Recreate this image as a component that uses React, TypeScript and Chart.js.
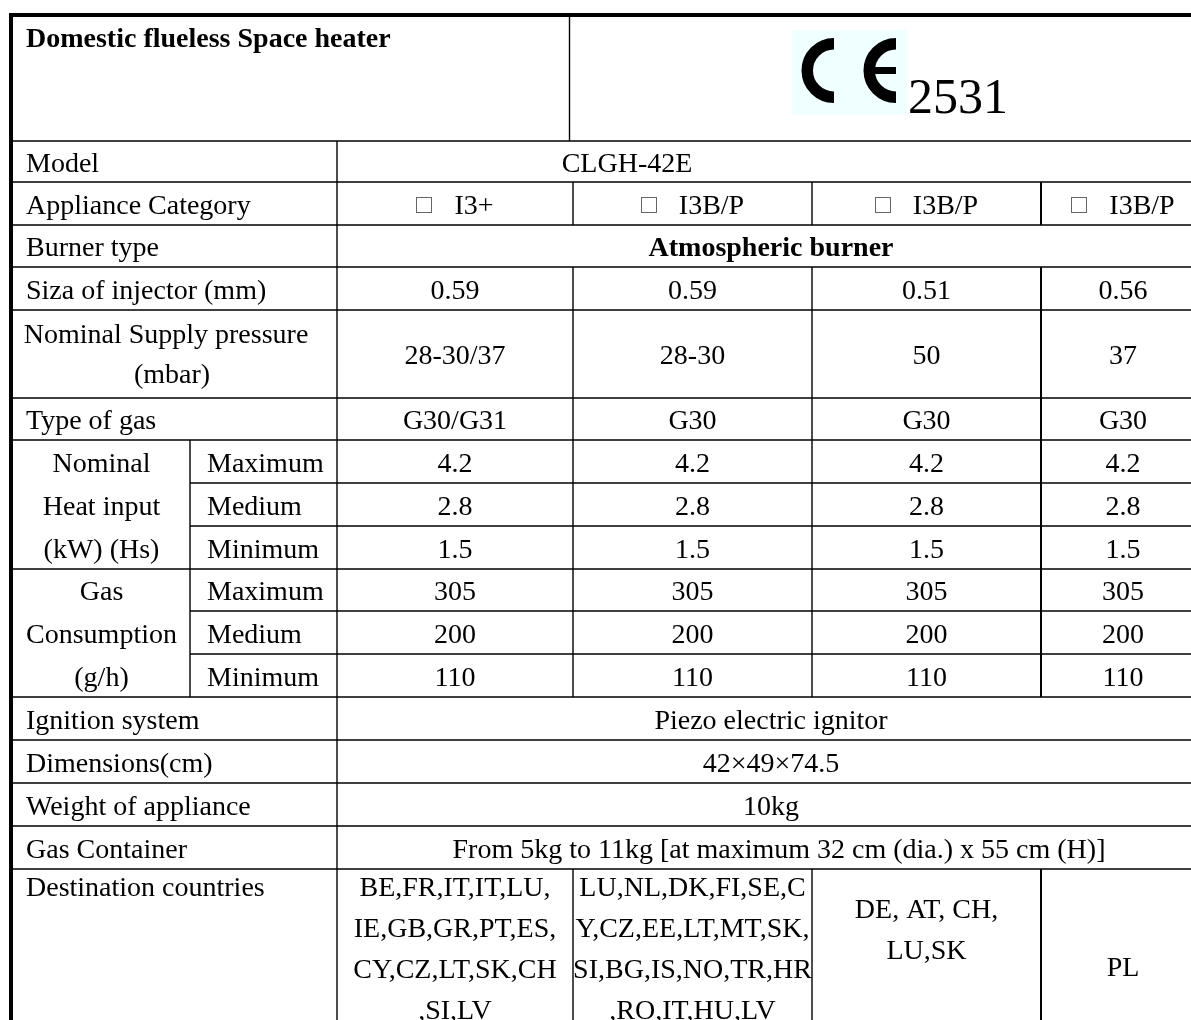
import React, { useEffect, useRef } from "react";
import { Chart, registerables } from "chart.js";

Chart.register(...registerables);

// ---------- data ----------
const title = "Domestic flueless Space heater";
const certNumber = "2531";
const modelName = "CLGH-42E";
const applianceCategories = ["I3+", "I3B/P", "I3B/P", "I3B/P"];
const burnerType = "Atmospheric burner";
const injectorSizes = ["0.59", "0.59", "0.51", "0.56"];
const supplyPressures = ["28-30/37", "28-30", "50", "37"];
const gasTypes = ["G30/G31", "G30", "G30", "G30"];
const levelLabels = ["Maximum", "Medium", "Minimum"];
const heatInputLabel = ["Nominal", "Heat input", "(kW) (Hs)"];
const heatInputMax = ["4.2", "4.2", "4.2", "4.2"];
const heatInputMed = ["2.8", "2.8", "2.8", "2.8"];
const heatInputMin = ["1.5", "1.5", "1.5", "1.5"];
const gasConsLabel = ["Gas", "Consumption", "(g/h)"];
const gasConsMax = ["305", "305", "305", "305"];
const gasConsMed = ["200", "200", "200", "200"];
const gasConsMin = ["110", "110", "110", "110"];
const ignitionSystem = "Piezo electric ignitor";
const dimensions = "42×49×74.5";
const weight = "10kg";
const gasContainer = "From 5kg to 11kg [at maximum 32 cm (dia.) x 55 cm (H)]";
const rowLabels = [
  "Model",
  "Appliance Category",
  "Burner type",
  "Siza of injector (mm)",
  "Nominal Supply pressure|(mbar)",
  "Type of gas",
  "Ignition system",
  "Dimensions(cm)",
  "Weight of appliance",
  "Gas Container",
  "Destination countries",
];
const destCol1 = ["BE,FR,IT,IT,LU,", "IE,GB,GR,PT,ES,", "CY,CZ,LT,SK,CH", ",SI,LV"];
const destCol2 = ["LU,NL,DK,FI,SE,C", "Y,CZ,EE,LT,MT,SK,", "SI,BG,IS,NO,TR,HR", ",RO,IT,HU,LV"];
const destCol3 = ["DE, AT, CH,", "LU,SK"];
const destCol4 = ["PL"];

// ---------- layout (table units = px on the scales) ----------
const COLS = [11, 190, 337, 573, 812, 1041, 1205];
const ROWS = [15, 141, 182, 225, 267, 310, 398, 440, 483, 526, 569, 611, 654, 697, 740, 783, 826, 869, 1070];
const FONT = '"Liberation Serif", "Times New Roman", serif';

const tablePlugin = {
  id: "specTable",
  afterDraw(chart: any) {
    const { ctx } = chart;
    const xs = chart.scales.x;
    const ys = chart.scales.y;
    const X = (v: number) => xs.getPixelForValue(v);
    const Y = (v: number) => ys.getPixelForValue(v);

    ctx.save();
    ctx.fillStyle = "#ffffff";
    ctx.fillRect(0, 0, chart.width, chart.height);

    // ----- lines -----
    ctx.strokeStyle = "#000";
    const hline = (y: number, x0: number, x1: number, w = 1.4) => {
      ctx.lineWidth = w;
      ctx.beginPath();
      ctx.moveTo(X(x0), Y(y));
      ctx.lineTo(X(x1), Y(y));
      ctx.stroke();
    };
    const vline = (x: number, y0: number, y1: number, w = 1.4) => {
      ctx.lineWidth = w;
      ctx.beginPath();
      ctx.moveTo(X(x), Y(y0));
      ctx.lineTo(X(x), Y(y1));
      ctx.stroke();
    };
    const right = COLS[6] + 20;
    for (let r = 1; r <= 17; r++) {
      const inner = r === 8 || r === 9 || r === 11 || r === 12;
      hline(ROWS[r], inner ? COLS[1] : COLS[0], right);
    }
    // header split
    vline(569.5, ROWS[0], ROWS[1]);
    // label / value divider
    vline(COLS[2], ROWS[1], ROWS[18]);
    // sub label divider
    vline(COLS[1], ROWS[7], ROWS[13]);
    const colRows: [number, number][] = [
      [ROWS[2], ROWS[3]],
      [ROWS[4], ROWS[13]],
      [ROWS[17], ROWS[18]],
    ];
    for (const [a, b] of colRows) {
      vline(COLS[3], a, b);
      vline(COLS[4], a, b);
      vline(COLS[5], a, b, 2);
      vline(COLS[6], a, b);
    }
    // thick outer border
    hline(ROWS[0], COLS[0] - 2, right, 4);
    vline(COLS[0], ROWS[0] - 2, ROWS[18], 4);

    // ----- text -----
    const txt = (s: string, x: number, y: number, align: CanvasTextAlign = "center", bold = false, size = 28) => {
      ctx.font = `${bold ? "bold " : ""}${size}px ${FONT}`;
      ctx.fillStyle = "#000";
      ctx.textAlign = align;
      ctx.textBaseline = "alphabetic";
      ctx.fillText(s, X(x), Y(y));
    };
    const base = (r: number) => (ROWS[r] + ROWS[r + 1]) / 2 + 10;
    const colCenter = (c: number) => (COLS[2 + c] + COLS[3 + c]) / 2;
    const valueCenter = (COLS[2] + COLS[6]) / 2;
    const labelX = 26;

    // header
    txt(title, labelX, 47, "left", true, 28);
    // CE mark
    ctx.fillStyle = "#f0ffff";
    ctx.fillRect(X(792), Y(30), X(907) - X(792), Y(115) - Y(30));
    ctx.strokeStyle = "#000";
    ctx.lineWidth = 11.5;
    ctx.lineCap = "butt";
    const rad = 32.5 - 11.5 / 2;
    ctx.beginPath();
    ctx.arc(X(834), Y(70.5), rad, Math.PI / 2, (3 * Math.PI) / 2);
    ctx.stroke();
    ctx.beginPath();
    ctx.arc(X(896), Y(70.5), rad, Math.PI / 2, (3 * Math.PI) / 2);
    ctx.stroke();
    ctx.fillStyle = "#000";
    ctx.fillRect(X(870), Y(67), X(896) - X(870), 7);
    txt(certNumber, 908, 113, "left", false, 50);

    // label column
    const singleLabelRows = [1, 2, 3, 4, 6, 13, 14, 15, 16];
    const labelIdx = [0, 1, 2, 3, 5, 6, 7, 8, 9];
    singleLabelRows.forEach((r, i) => txt(rowLabels[labelIdx[i]], labelX, base(r), "left"));
    const [np1, np2] = rowLabels[4].split("|");
    txt(np1, 166, ROWS[5] + 33, "center");
    txt(np2, 172, ROWS[5] + 73, "center");
    txt(rowLabels[10], labelX, 896, "left");

    // model
    txt(modelName, 627, base(1));
    // appliance categories
    applianceCategories.forEach((c, i) => {
      ctx.font = `28px ${FONT}`;
      const tw = ctx.measureText(c).width;
      const total = 16 + 22 + tw;
      const start = colCenter(i) - total / 2;
      ctx.strokeStyle = "#666";
      ctx.lineWidth = 1;
      const by = (ROWS[2] + ROWS[3]) / 2 - 7;
      ctx.strokeRect(Math.round(X(start)) + 0.5, Math.round(Y(by)) + 0.5, 15, 15);
      txt(c, start + 38, base(2), "left");
    });
    txt(burnerType, valueCenter, base(3), "center", true);
    injectorSizes.forEach((v, i) => txt(v, colCenter(i), base(4)));
    supplyPressures.forEach((v, i) => txt(v, colCenter(i), base(5)));
    gasTypes.forEach((v, i) => txt(v, colCenter(i), base(6)));

    const groupX = (COLS[0] + COLS[1]) / 2 + 1;
    heatInputLabel.forEach((s, i) => txt(s, groupX, base(7 + i)));
    gasConsLabel.forEach((s, i) => txt(s, groupX, base(10 + i)));
    [7, 8, 9, 10, 11, 12].forEach((r, i) => txt(levelLabels[i % 3], 207, base(r), "left"));
    const grid = [heatInputMax, heatInputMed, heatInputMin, gasConsMax, gasConsMed, gasConsMin];
    grid.forEach((row, k) => row.forEach((v, i) => txt(v, colCenter(i), base(7 + k))));

    txt(ignitionSystem, valueCenter, base(13));
    txt(dimensions, valueCenter, base(14));
    txt(weight, valueCenter, base(15));
    txt(gasContainer, valueCenter + 8, base(16));

    destCol1.forEach((s, i) => txt(s, colCenter(0), 896 + i * 41));
    destCol2.forEach((s, i) => txt(s, colCenter(1), 896 + i * 41));
    destCol3.forEach((s, i) => txt(s, colCenter(2), 918 + i * 41));
    destCol4.forEach((s, i) => txt(s, colCenter(3), 976 + i * 41));

    ctx.restore();
  },
};

export default function App() {
  const ref = useRef<HTMLCanvasElement | null>(null);
  useEffect(() => {
    if (!ref.current) return;
    const chart = new Chart(ref.current, {
      type: "scatter",
      data: { datasets: [{ data: [], pointRadius: 0 }] },
      options: {
        animation: false,
        responsive: true,
        maintainAspectRatio: false,
        devicePixelRatio: 1,
        layout: { padding: 0 },
        plugins: { legend: { display: false }, tooltip: { enabled: false }, title: { display: false } },
        scales: {
          x: { type: "linear", min: 0, max: 1191, display: false },
          y: { type: "linear", min: 0, max: 1020, reverse: true, display: false },
        },
      },
      plugins: [tablePlugin],
    });
    return () => chart.destroy();
  }, []);
  return (
    <div style={{ position: "absolute", left: 0, top: 0, width: 1191, height: 1020, overflow: "hidden" }}>
      <canvas ref={ref} />
    </div>
  );
}
